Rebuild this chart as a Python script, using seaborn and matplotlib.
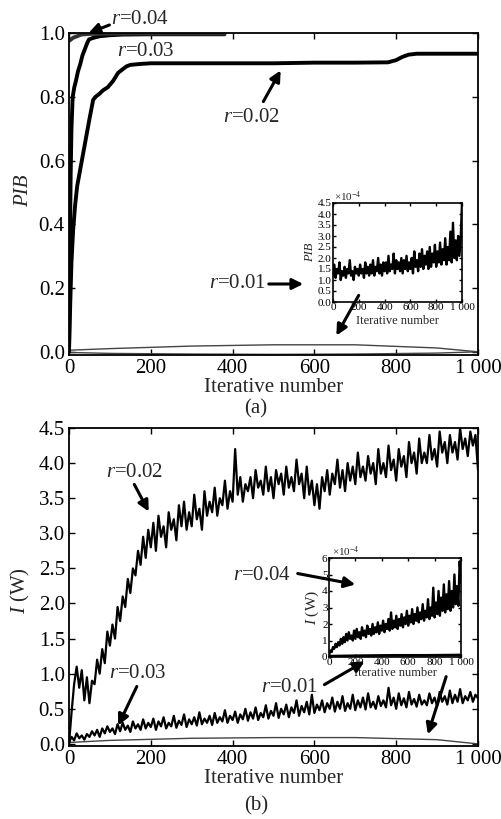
import numpy as np
import pandas as pd
import matplotlib
matplotlib.use('Agg')
import matplotlib.pyplot as plt
import seaborn as sns

sns.set_theme(style='ticks')
plt.rcParams['font.family'] = ['Liberation Serif', 'DejaVu Serif']
plt.rcParams['mathtext.fontset'] = 'custom'
plt.rcParams['mathtext.rm'] = 'Liberation Serif'
plt.rcParams['mathtext.it'] = 'Liberation Serif:italic'

# ---------------- data ----------------
# panel (a): PIB convergence curves
a_r004_x = [0, 5, 10, 20, 30, 50, 100, 200, 300, 380]
a_r004_y = [0.975, 0.98, 0.985, 0.99, 0.995, 0.997, 0.998, 0.998, 0.998, 0.998]
a_r003_x = [0, 2, 4, 6, 9, 13, 17, 22, 27, 33, 39, 45, 49, 60, 76, 100, 130, 200, 300, 380]
a_r003_y = [0, 0.3, 0.55, 0.7, 0.8, 0.83, 0.85, 0.88, 0.9, 0.93, 0.95, 0.97, 0.98, 0.985,
            0.99, 0.993, 0.995, 0.996, 0.996, 0.996]
a_r002_x = [0, 3, 6, 10, 15, 20, 30, 40, 50, 59, 65, 75, 83, 95, 108, 120, 130, 140, 150,
            175, 200, 300, 400, 500, 600, 700, 780, 800, 815, 830, 850, 900, 1000]
a_r002_y = [0, 0.15, 0.28, 0.38, 0.46, 0.52, 0.59, 0.66, 0.73, 0.79, 0.8, 0.81, 0.82, 0.83,
            0.85, 0.875, 0.885, 0.895, 0.9, 0.903, 0.905, 0.905, 0.905, 0.905, 0.907, 0.907,
            0.908, 0.915, 0.925, 0.932, 0.935, 0.935, 0.935]
a_lens_x = [0, 100, 300, 500, 700, 900, 1000]
a_lens_up = [0.005, 0.01, 0.018, 0.022, 0.022, 0.012, 0.0]
a_lens_lo = [-0.002, -0.005, -0.007, -0.008, -0.007, -0.004, 0.0]

# inset (a): r=0.01, PIB x1e-4, sampled every 10 iterations
ia_y = [1.2, 1.7, 1.1, 1.5, 1.3, 1.8, 1.0, 1.4, 1.2, 1.6,
        1.1, 1.5, 1.3, 1.9, 1.2, 1.4, 1.0, 1.6, 1.3, 1.5,
        1.2, 1.7, 1.3, 1.5, 1.1, 1.8, 1.3, 1.6, 1.2, 1.7,
        1.3, 1.9, 1.2, 1.6, 1.4, 2.0, 1.3, 1.7, 1.2, 1.8,
        1.4, 1.8, 1.3, 2.1, 1.4, 1.7, 1.5, 2.2, 1.3, 1.9,
        1.5, 1.8, 1.4, 2.0, 1.3, 1.9, 1.5, 2.1, 1.4, 1.8,
        1.5, 2.0, 1.3, 2.3, 1.6, 1.9, 1.4, 2.2, 1.6, 2.4,
        1.5, 2.1, 1.7, 2.3, 1.5, 2.5, 1.6, 2.2, 1.8, 2.6,
        1.6, 2.3, 1.8, 2.7, 1.7, 2.4, 1.9, 2.9, 1.7, 2.5,
        1.9, 3.2, 1.8, 3.6, 2.0, 2.8, 1.9, 3.0, 2.1, 2.9, 4.5]

# panel (b): I (W), sampled every 6.25 iterations
b_r002_y = [0.0, 0.45, 0.85, 1.1, 0.8, 1.05, 0.62, 0.95, 0.58, 0.9,
            0.85, 1.2, 1.0, 1.35, 1.15, 1.6, 1.4, 1.7, 1.5, 1.95,
            1.75, 2.1, 1.95, 2.35, 2.15, 2.5, 2.4, 2.75, 2.55, 2.95,
            2.65, 3.05, 2.8, 3.15, 2.75, 3.25, 2.95, 3.1, 2.8, 3.3,
            3.05, 3.2, 2.9, 3.4, 3.1, 3.45, 3.05, 3.3, 3.1, 3.55,
            3.2, 3.35, 3.05, 3.6, 3.25, 3.45, 3.3, 3.65, 3.25, 3.5,
            3.4, 3.75, 3.35, 3.6, 3.45, 4.2, 3.55, 3.8, 3.45, 3.7,
            3.6, 3.8, 3.5, 3.9, 3.65, 3.75, 3.55, 3.95, 3.6, 3.8,
            3.5, 3.9, 3.7, 3.85, 3.55, 3.95, 3.65, 3.8, 3.6, 4.05,
            3.7, 3.85, 3.5, 3.95, 3.55, 3.75, 3.4, 3.7, 3.35, 3.8,
            3.6, 3.9, 3.55, 3.85, 3.7, 4.05, 3.65, 3.9, 3.6, 4.0,
            3.75, 3.95, 3.7, 4.15, 3.8, 3.95, 3.75, 4.1, 3.85, 4.0,
            3.7, 4.2, 3.85, 4.0, 3.8, 4.25, 3.9, 4.05, 3.75, 4.2,
            3.95, 4.1, 3.8, 4.3, 4.0, 4.15, 3.85, 4.35, 4.0, 4.15,
            4.0, 4.4, 4.05, 4.2, 3.95, 4.45, 4.15, 4.3, 4.0, 4.4,
            4.15, 4.3, 4.05, 4.5, 4.2, 4.35, 4.1, 4.45, 4.25, 4.4, 3.9]
b_r003_y = [0.02, 0.1, 0.05, 0.15, 0.08, 0.12, 0.06, 0.14, 0.1, 0.18,
            0.12, 0.2, 0.1, 0.22, 0.15, 0.25, 0.17, 0.22, 0.14, 0.28,
            0.18, 0.3, 0.2, 0.26, 0.17, 0.32, 0.22, 0.28, 0.2, 0.35,
            0.22, 0.3, 0.24, 0.36, 0.2, 0.32, 0.25, 0.38, 0.22, 0.3,
            0.25, 0.4, 0.23, 0.33, 0.27, 0.42, 0.24, 0.35, 0.28, 0.38,
            0.26, 0.45, 0.28, 0.36, 0.3, 0.4, 0.27, 0.44, 0.3, 0.38,
            0.32, 0.48, 0.3, 0.4, 0.34, 0.46, 0.3, 0.42, 0.35, 0.5,
            0.33, 0.45, 0.36, 0.52, 0.34, 0.44, 0.38, 0.55, 0.36, 0.47,
            0.4, 0.58, 0.37, 0.5, 0.42, 0.56, 0.38, 0.52, 0.44, 0.62,
            0.4, 0.54, 0.45, 0.6, 0.42, 0.7, 0.44, 0.56, 0.48, 0.62,
            0.45, 0.58, 0.5, 0.66, 0.46, 0.6, 0.5, 0.68, 0.47, 0.58,
            0.5, 0.7, 0.48, 0.62, 0.52, 0.66, 0.49, 0.72, 0.52, 0.6,
            0.5, 0.68, 0.54, 0.62, 0.52, 0.8, 0.55, 0.66, 0.5, 0.72,
            0.55, 0.65, 0.52, 0.74, 0.56, 0.64, 0.53, 0.7, 0.56, 0.62,
            0.55, 0.72, 0.58, 0.66, 0.54, 0.74, 0.6, 0.68, 0.56, 0.76,
            0.58, 0.7, 0.6, 0.78, 0.58, 0.68, 0.62, 0.74, 0.6, 0.7, 0.65]
b_lens_x = [0, 100, 300, 500, 700, 900, 1000]
b_lens_up = [0.02, 0.05, 0.08, 0.09, 0.09, 0.06, 0.0]

# inset (b): I (W) x1e-4, sampled every 10 iterations
ib_y = [0.1, 0.4, 0.3, 0.6, 0.5, 0.8, 0.6, 0.9, 0.7, 1.1,
        0.8, 1.2, 0.9, 1.4, 1.0, 1.5, 1.1, 1.3, 1.0, 1.6,
        1.1, 1.7, 1.2, 1.5, 1.1, 1.8, 1.3, 1.6, 1.2, 1.9,
        1.4, 1.7, 1.3, 2.0, 1.4, 1.8, 1.5, 2.1, 1.4, 1.9,
        1.6, 2.2, 1.5, 2.0, 1.7, 2.3, 1.6, 2.7, 1.7, 2.2,
        1.8, 2.5, 1.7, 2.3, 1.9, 2.6, 1.8, 2.4, 2.0, 2.8,
        1.9, 2.5, 2.1, 2.9, 2.0, 2.6, 2.2, 3.0, 2.1, 2.7,
        2.3, 3.2, 2.2, 2.8, 2.4, 3.5, 2.3, 3.0, 2.5, 4.2,
        2.4, 3.3, 2.6, 4.0, 2.5, 3.6, 2.8, 4.4, 2.7, 3.8,
        2.9, 4.6, 2.8, 4.0, 3.0, 5.0, 3.2, 4.3, 3.1, 5.8, 4.5]
ib_base_x = [0, 250, 500, 750, 1000]
ib_base_y = [0.05, 0.08, 0.1, 0.1, 0.12]

x_ticks = [0, 200, 400, 600, 800, 1000]
x_labels = ['0', '200', '400', '600', '800', '1 000']

b_x = np.linspace(0, 1000, len(b_r002_y))
i_x = np.linspace(0, 1000, len(ia_y))

W, H = 502, 819
fig = plt.figure(figsize=(W / 100, H / 100), dpi=100)


def box(x0, x1, ytop, ybot):
    return [x0 / W, 1 - ybot / H, (x1 - x0) / W, (ybot - ytop) / H]


def style(ax, size, lw=1.3):
    ax.tick_params(direction='in', top=True, right=True, labelsize=size,
                   length=4, width=1, colors='black', pad=3)
    for s in ax.spines.values():
        s.set_color('black')
        s.set_linewidth(lw)
    ax.set_facecolor('white')


def line(ax, x, y, lw, color='black'):
    sns.lineplot(x=x, y=y, ax=ax, color=color, lw=lw, estimator=None, sort=False,
                 legend=False)


def arrow(x0, y0, x1, y1):
    fig.add_artist(matplotlib.patches.FancyArrowPatch(
        (x0, H - y0), (x1, H - y1), transform=None, arrowstyle='-|>',
        mutation_scale=16, lw=2.2, color='black'))


def label(x, y, txt, size=15):
    fig.text(x / W, 1 - y / H, txt, ha='center', va='center', fontsize=size)


# ---------------- panel (a) ----------------
ax1 = fig.add_axes(box(69, 478, 33, 355))
line(ax1, a_lens_x, a_lens_up, 1.0, '#444444')
line(ax1, a_lens_x, a_lens_lo, 1.0, '#444444')
line(ax1, a_r002_x, a_r002_y, 2.8)
line(ax1, a_r003_x, a_r003_y, 2.8)
line(ax1, a_r004_x, a_r004_y, 2.8, '#333333')
ax1.set_xlim(0, 1000)
ax1.set_ylim(-0.01, 1.0)
ax1.set_xticks(x_ticks, x_labels)
ax1.set_yticks([0.0, 0.2, 0.4, 0.6, 0.8, 1.0], ['0.0', '0.2', '0.4', '0.6', '0.8', '1.0'])
style(ax1, 15)
ax1.set_xlabel('Iterative number', fontsize=15, labelpad=0)
ax1.set_ylabel('PIB', fontsize=15, fontstyle='italic')
ax1.yaxis.set_label_coords(-0.088, 0.51)
label(256, 409, '(a)')

iax1 = fig.add_axes(box(333, 462, 203, 302))
line(iax1, i_x, ia_y, 1.7)
iax1.set_xlim(0, 1000)
iax1.set_ylim(0, 4.5)
iax1.set_xticks(x_ticks, x_labels)
iax1.set_yticks(np.arange(0, 4.51, 0.5), [f'{v:.1f}' for v in np.arange(0, 4.51, 0.5)])
style(iax1, 8, 1.2)
iax1.tick_params(length=2, pad=1)
iax1.set_xlabel('Iterative number', fontsize=9, labelpad=2)
iax1.set_ylabel('PIB', fontsize=9, fontstyle='italic', labelpad=1)
label(348, 197, r'$\times$10$^{-4}$', 8)

label(140, 20, r'$r$=0.04')
arrow(112, 24, 86, 34)
label(146, 52, r'$r$=0.03')
label(252, 118, r'$r$=0.02')
arrow(262, 104, 282, 68)
label(238, 284, r'$r$=0.01')
arrow(266, 284, 306, 284)
arrow(360, 293, 335, 338)

# ---------------- panel (b) ----------------
ax2 = fig.add_axes(box(69, 478, 428, 746))
line(ax2, b_lens_x, b_lens_up, 1.0, '#444444')
line(ax2, b_x, b_r003_y, 1.6)
line(ax2, b_x, b_r002_y, 1.6)
ax2.set_xlim(0, 1000)
ax2.set_ylim(-0.03, 4.5)
ax2.set_xticks(x_ticks, x_labels)
ax2.set_yticks(np.arange(0, 4.51, 0.5), [f'{v:.1f}' for v in np.arange(0, 4.51, 0.5)])
style(ax2, 15)
ax2.set_xlabel('Iterative number', fontsize=15, labelpad=0)
ax2.set_ylabel(r'$I$ (W)', fontsize=15)
ax2.yaxis.set_label_coords(-0.09, 0.49)
label(256, 806, '(b)')

iax2 = fig.add_axes(box(329, 461, 558, 657))
line(iax2, ib_base_x, ib_base_y, 2.0)
line(iax2, i_x, ib_y, 1.7)
iax2.set_xlim(0, 1000)
iax2.set_ylim(0, 6)
iax2.set_xticks(x_ticks, x_labels)
iax2.set_yticks([0, 1, 2, 3, 4, 5, 6], ['0', '1', '2', '3', '4', '5', '6'])
style(iax2, 8, 1.2)
iax2.tick_params(length=2, pad=1)
iax2.set_xlabel('Iterative number', fontsize=9, labelpad=0)
iax2.set_ylabel(r'$I$ (W)', fontsize=11, labelpad=1)
label(346, 552, r'$\times$10$^{-4}$', 8)

label(135, 473, r'$r$=0.02')
arrow(133, 482, 150, 514)
label(138, 673, r'$r$=0.03')
arrow(138, 684, 117, 728)
label(262, 575, r'$r$=0.04')
arrow(295, 573, 358, 585)
label(290, 688, r'$r$=0.01')
arrow(322, 686, 367, 660)
arrow(447, 674, 427, 737)

fig.savefig('out.png', dpi=100, facecolor='white')
